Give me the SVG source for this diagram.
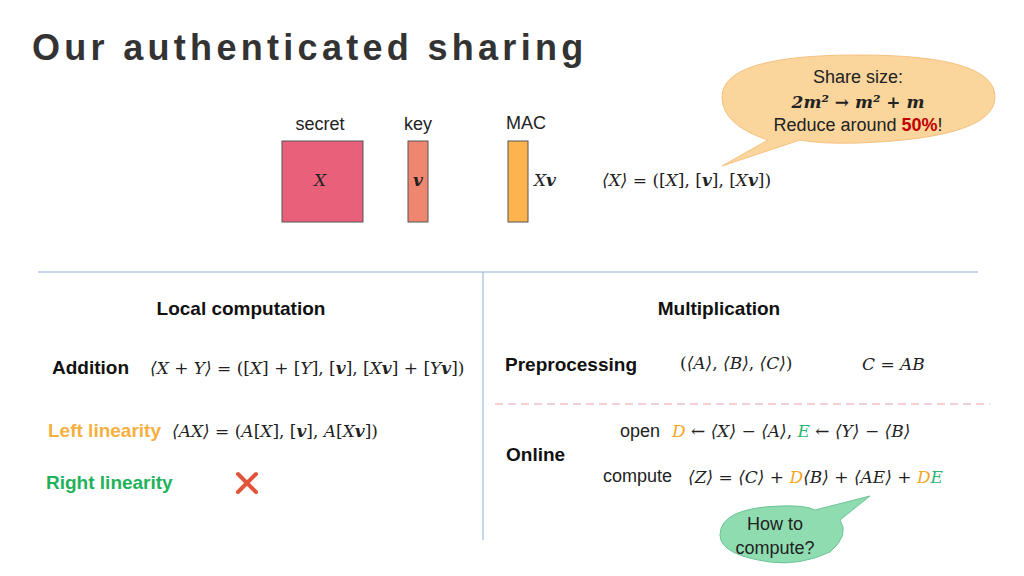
<svg xmlns="http://www.w3.org/2000/svg" width="1024" height="576" viewBox="0 0 1024 576">
<style>
.s{font-family:"Liberation Sans",Arial,sans-serif;font-size:18px;fill:#222}
.b{font-family:"Liberation Sans",Arial,sans-serif;font-size:19px;font-weight:bold;fill:#111}
.m{font-family:"DejaVu Serif","Liberation Serif",serif;font-size:17px;font-style:italic;fill:#222}
.n{font-style:normal}
.bi{font-weight:bold}
.o{fill:#f5a623}
.g{fill:#2bb673}
</style>
<rect width="1024" height="576" fill="#fff"/>
<text x="32" y="60" font-family="Liberation Sans,Arial,sans-serif" font-size="36" font-weight="bold" fill="#333" letter-spacing="4.3">Our authenticated sharing</text>
<g id="bubble1">
<path d="M768,140 Q722,125 722,97 Q722,55 858,55 Q995,55 995,97 Q995,138 858,143 Q820,144 800,140 L722,166 Z" fill="#fad59c" stroke="#f5c17f"/>
<text class="s" x="858" y="83" text-anchor="middle">Share size:</text>
<text class="m bi" x="858" y="108" text-anchor="middle">2m² → m² + m</text>
<text class="s" x="858" y="131" text-anchor="middle">Reduce around <tspan font-weight="bold" fill="#c00000">50%</tspan>!</text>
</g>
<g id="shares">
<text class="s" x="320" y="130" text-anchor="middle">secret</text>
<text class="s" x="418" y="130" text-anchor="middle">key</text>
<text class="s" x="526" y="129" text-anchor="middle">MAC</text>
<rect x="282" y="141" width="81" height="81" fill="#e8607a" stroke="#555"/>
<rect x="408" y="141" width="20" height="81" fill="#ef8770" stroke="#555"/>
<rect x="508" y="141" width="20" height="81" fill="#fdb44e" stroke="#555"/>
<text class="m" x="320" y="186" text-anchor="middle">X</text>
<text class="m bi" x="418" y="186" text-anchor="middle">v</text>
<text class="m" x="534" y="186">X<tspan font-weight="bold">v</tspan></text>
<text class="m" x="602" y="186">⟨X⟩ <tspan class="n">= ([</tspan>X<tspan class="n">], [</tspan><tspan font-weight="bold">v</tspan><tspan class="n">], [</tspan>X<tspan font-weight="bold">v</tspan><tspan class="n">])</tspan></text>
</g>
<g id="dividers">
<line x1="38" y1="272" x2="978" y2="272" stroke="#8eb0d8" stroke-width="1"/>
<line x1="483" y1="272" x2="483" y2="540" stroke="#8eb0d8" stroke-width="1"/>
<line x1="495" y1="404" x2="990" y2="404" stroke="#e9a2ae" stroke-width="1" stroke-dasharray="8,5"/>
</g>
<g id="local">
<text class="b" x="241" y="315" text-anchor="middle">Local computation</text>
<text class="b" x="52" y="374">Addition</text>
<text class="m" x="150" y="374">⟨X <tspan class="n">+</tspan> Y⟩ <tspan class="n">= ([</tspan>X<tspan class="n">] + [</tspan>Y<tspan class="n">], [</tspan><tspan font-weight="bold">v</tspan><tspan class="n">], [</tspan>X<tspan font-weight="bold">v</tspan><tspan class="n">] + [</tspan>Y<tspan font-weight="bold">v</tspan><tspan class="n">])</tspan></text>
<text class="b" x="48" y="437" style="fill:#f5b040">Left linearity</text>
<text class="m" x="172" y="437">⟨AX⟩ <tspan class="n">= (</tspan>A<tspan class="n">[</tspan>X<tspan class="n">], [</tspan><tspan font-weight="bold">v</tspan><tspan class="n">], </tspan>A<tspan class="n">[</tspan>X<tspan font-weight="bold">v</tspan><tspan class="n">])</tspan></text>
<text class="b" x="46" y="489" style="fill:#1fb25a">Right linearity</text>
<path d="M238,474 L256,492 M256,474 L238,492" stroke="#e0553a" stroke-width="4" stroke-linecap="round"/>
</g>
<g id="mult">
<text class="b" x="719" y="315" text-anchor="middle">Multiplication</text>
<text class="b" x="505" y="371">Preprocessing</text>
<text class="m" x="680" y="369"><tspan class="n">(</tspan>⟨A⟩<tspan class="n">, </tspan>⟨B⟩<tspan class="n">, </tspan>⟨C⟩<tspan class="n">)</tspan></text>
<text class="m" x="862" y="370">C <tspan class="n">=</tspan> AB</text>
<text class="b" x="506" y="461">Online</text>
<text class="s" x="620" y="437">open</text>
<text class="m" x="672" y="437"><tspan class="o">D</tspan> <tspan class="n">←</tspan> ⟨X⟩ <tspan class="n">−</tspan> ⟨A⟩<tspan class="n">, </tspan><tspan class="g">E</tspan> <tspan class="n">←</tspan> ⟨Y⟩ <tspan class="n">−</tspan> ⟨B⟩</text>
<text class="s" x="603" y="482">compute</text>
<text class="m" x="688" y="483">⟨Z⟩ <tspan class="n">=</tspan> ⟨C⟩ <tspan class="n">+</tspan> <tspan class="o">D</tspan>⟨B⟩ <tspan class="n">+</tspan> ⟨AE⟩ <tspan class="n">+</tspan> <tspan class="o">D</tspan><tspan class="g">E</tspan></text>
</g>
<g id="bubble2">
<path d="M815,510 L870,496 L840,520 Q850,535 830,552 Q800,566 770,562 Q720,555 720,535 Q720,508 780,506 Q805,505 815,510 Z" fill="#8fdcb0" stroke="#6cc597"/>
<text class="s" x="775" y="530" text-anchor="middle">How to</text>
<text class="s" x="775" y="554" text-anchor="middle">compute?</text>
</g>
</svg>
